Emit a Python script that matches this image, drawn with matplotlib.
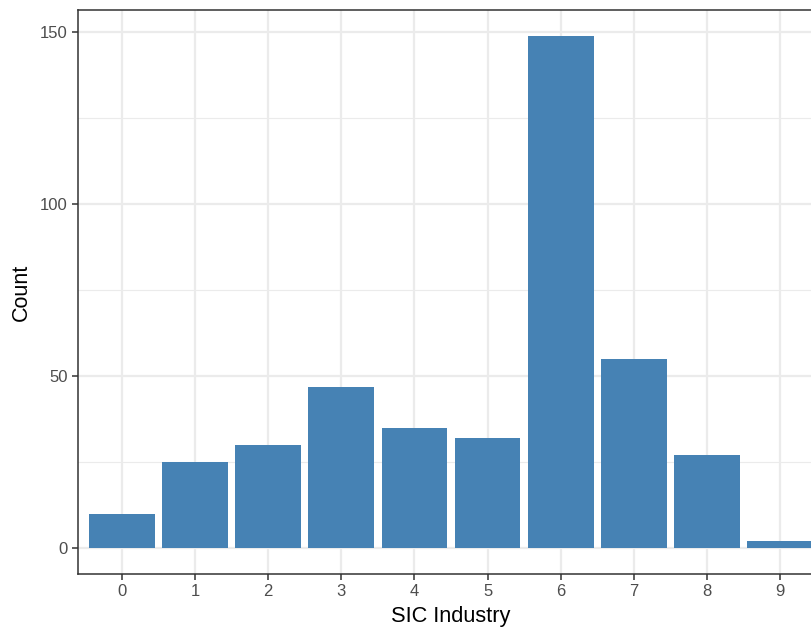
import matplotlib
matplotlib.use("Agg")
import matplotlib.pyplot as plt
from matplotlib.ticker import MultipleLocator

categories = ["0", "1", "2", "3", "4", "5", "6", "7", "8", "9"]
counts = [10, 25, 30, 47, 35, 32, 149, 55, 27, 2]

plt.rcParams['font.family'] = ['Liberation Sans', 'DejaVu Sans']

W, H = 811, 627
fig = plt.figure(figsize=(W / 100, H / 100), dpi=100)
# panel: left 78px, top 10px, bottom 574px, right 824px (cropped by figure edge)
ax = fig.add_axes([78 / W, 1 - 574 / H, (824 - 78) / W, (574 - 10) / H])

x = list(range(len(categories)))
ax.bar(x, counts, width=0.9, color="#4682B4", zorder=3)

n = len(categories)
ax.set_xlim(-0.6, n - 1 + 0.6)
ymax = max(counts)
ax.set_ylim(-0.05 * ymax, ymax * 1.05)

ax.set_xticks(x)
ax.set_xticklabels(categories)
ax.yaxis.set_major_locator(MultipleLocator(50))
ax.yaxis.set_minor_locator(MultipleLocator(25))

ax.grid(which="major", color="#EBEBEB", linewidth=1.6, zorder=0)
ax.grid(which="minor", axis="y", color="#EBEBEB", linewidth=0.8, zorder=0)
ax.tick_params(which="minor", length=0)
ax.tick_params(which="major", length=4.3, width=1.1, color="#333333",
               labelcolor="#4D4D4D", labelsize=12, pad=3)
for s in ax.spines.values():
    s.set_color("#333333")
    s.set_linewidth(1.1)
    s.set_zorder(4)

ax.set_xlabel("SIC Industry", fontsize=15.7, color="black", labelpad=5)
ax.set_ylabel("Count", fontsize=15.5, color="black", labelpad=6)

fig.savefig("out.png", dpi=100)
